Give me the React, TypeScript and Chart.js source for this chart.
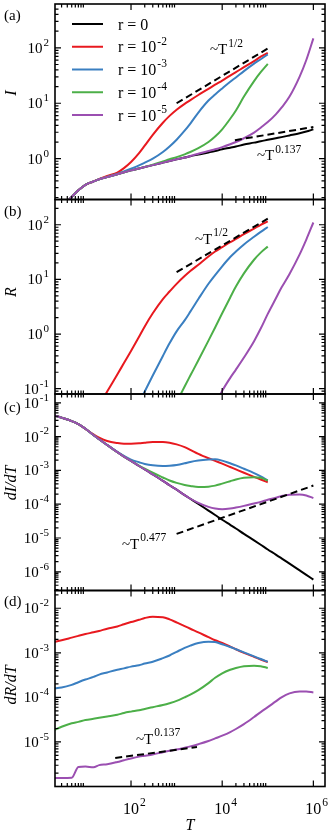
import React, { useEffect, useRef } from 'react';
import { Chart, registerables } from 'chart.js';

Chart.register(...registerables);

const W = 332;
const H = 832;
const PLOT_LEFT = 55;
const PLOT_RIGHT = 325;
const X_MIN = 2.15;
const X_MAX = 1.8e6;
const FONT = "'Liberation Serif', 'DejaVu Serif', 'Times New Roman', serif";

// temperature grid (shared by every series)
const T = [2, 3, 5, 7, 10, 15, 20, 30, 50, 70, 100, 150, 200, 300, 500, 700,
  1e3, 1.5e3, 2e3, 3e3, 5e3, 7e3, 1e4, 1.5e4, 2e4, 3e4, 5e4, 7e4, 1e5,
  1.5e5, 2e5, 3e5, 5e5, 7e5, 1e6];

const SERIES_LABELS = ['0', '-2', '-3', '-4', '-5'];
const COLORS = ['#000000', '#e8191f', '#3a7fc1', '#4caf48', '#9b4fb1'];

// (a) I
const I_R0 = [0.079, 0.126, 0.204, 0.269, 0.339, 0.389, 0.427, 0.468, 0.525, 0.569, 0.617, 0.668, 0.708, 0.767, 0.851, 0.912,
  0.977, 1.05, 1.11, 1.19, 1.30, 1.38, 1.48, 1.58, 1.66, 1.80, 1.95, 2.07, 2.19, 2.34, 2.45, 2.63, 2.88, 3.09, 3.39];
const I_R2 = [0.079, 0.126, 0.204, 0.269, 0.339, 0.389, 0.43, 0.49, 0.562, 0.676, 0.871, 1.26, 1.72, 2.70, 4.45, 5.92,
  7.66, 9.77, 11.4, 14.1, 18.2, 21.6, 25.7, 31.6, 36.3, 44.7, 57.5, 69.2, 81.3];
const I_R3 = [0.079, 0.126, 0.204, 0.269, 0.339, 0.389, 0.427, 0.468, 0.531, 0.589, 0.661, 0.759, 0.851, 1.00, 1.32, 1.66,
  2.20, 3.20, 4.30, 6.80, 11.2, 14.4, 18.5, 24.4, 29.2, 38.0, 51.8, 62.2, 75.9];
const I_R4 = [0.079, 0.126, 0.204, 0.269, 0.339, 0.389, 0.427, 0.468, 0.525, 0.569, 0.617, 0.668, 0.708, 0.776, 0.891, 0.977,
  1.07, 1.20, 1.32, 1.55, 2.00, 2.51, 3.39, 5.25, 7.41, 13.2, 25.1, 36.3, 51.3];
const I_R5 = [0.079, 0.126, 0.204, 0.269, 0.339, 0.389, 0.427, 0.468, 0.525, 0.569, 0.617, 0.668, 0.708, 0.767, 0.851, 0.912,
  0.977, 1.05, 1.12, 1.23, 1.38, 1.48, 1.62, 1.82, 2.00, 2.34, 2.95, 3.63, 4.57, 6.31, 8.32, 13.2, 30.2, 60.3, 148];

// (b) R
const R_R2 = [null, null, null, null, null, null, 0.050, 0.089, 0.182, 0.295, 0.490, 0.891, 1.38, 2.40, 4.37, 6.00,
  8.30, 11.5, 14.2, 18.6, 26.3, 32.4, 38.9, 47.9, 55.0, 67.6, 85.1, 100, 115];
const R_R3 = [null, null, null, null, null, null, null, null, null, null, null, 0.056, 0.0891, 0.174, 0.398, 0.676,
  1.12, 1.78, 2.57, 4.37, 8.32, 12.0, 17.4, 25.7, 32.4, 43.7, 60.3, 74.1, 91.2];
const R_R4 = [null, null, null, null, null, null, null, null, null, null, null, null, null, null, null, null,
  0.0562, 0.110, 0.174, 0.331, 0.759, 1.32, 2.40, 4.68, 7.41, 12.9, 22.9, 30.9, 39.8];
const R_R5 = [null, null, null, null, null, null, null, null, null, null, null, null, null, null, null, null,
  null, null, null, null, null, 0.050, 0.0912, 0.158, 0.224, 0.372, 0.741, 1.26, 2.34, 4.47, 7.08, 12.6, 28.8, 53.7, 110];

// (c) dI/dT
const DI_R0 = [0.0427, 0.0363, 0.0288, 0.0234, 0.0170, 0.0112, 8.32e-3, 5.62e-3, 3.47e-3, 2.57e-3, 1.91e-3, 1.35e-3, 1.07e-3,
  7.59e-4, 4.90e-4, 3.63e-4, 2.69e-4, 1.86e-4, 1.45e-4, 1.02e-4, 6.46e-5, 4.79e-5, 3.47e-5, 2.45e-5, 1.91e-5, 1.32e-5,
  8.51e-6, 6.31e-6, 4.57e-6, 3.24e-6, 2.51e-6, 1.74e-6, 1.10e-6, 8.13e-7, 5.89e-7];
const DI_R2 = [0.0427, 0.0363, 0.0288, 0.0234, 0.0170, 0.0117, 9.33e-3, 7.41e-3, 6.46e-3, 6.17e-3, 6.17e-3, 6.31e-3, 6.61e-3,
  6.92e-3, 6.92e-3, 6.61e-3, 5.89e-3, 4.90e-3, 4.07e-3, 3.09e-3, 2.29e-3, 1.91e-3, 1.58e-3, 1.26e-3, 1.07e-3, 8.51e-4,
  6.46e-4, 5.37e-4, 4.47e-4];
const DI_R3 = [0.0427, 0.0363, 0.0288, 0.0234, 0.0170, 0.0112, 8.32e-3, 5.70e-3, 3.55e-3, 2.69e-3, 2.09e-3, 1.74e-3, 1.55e-3,
  1.41e-3, 1.35e-3, 1.38e-3, 1.45e-3, 1.62e-3, 1.78e-3, 1.95e-3, 2.09e-3, 2.14e-3, 1.95e-3, 1.62e-3, 1.41e-3, 1.12e-3,
  8.32e-4, 6.61e-4, 5.01e-4];
const DI_R4 = [0.0427, 0.0363, 0.0288, 0.0234, 0.0170, 0.0112, 8.32e-3, 5.62e-3, 3.47e-3, 2.57e-3, 1.91e-3, 1.38e-3, 1.12e-3,
  8.51e-4, 6.17e-4, 5.01e-4, 4.27e-4, 3.72e-4, 3.47e-4, 3.24e-4, 3.31e-4, 3.55e-4, 4.07e-4, 4.79e-4, 5.37e-4, 6.03e-4,
  6.31e-4, 6.03e-4, 5.01e-4];
const DI_R5 = [0.0427, 0.0363, 0.0288, 0.0234, 0.0170, 0.0112, 8.32e-3, 5.62e-3, 3.47e-3, 2.57e-3, 1.91e-3, 1.35e-3, 1.07e-3,
  7.59e-4, 4.90e-4, 3.63e-4, 2.69e-4, 1.86e-4, 1.45e-4, 1.10e-4, 8.32e-5, 7.41e-5, 7.08e-5, 7.41e-5, 7.94e-5, 8.91e-5,
  1.05e-4, 1.17e-4, 1.35e-4, 1.55e-4, 1.74e-4, 1.91e-4, 1.95e-4, 1.82e-4, 1.51e-4];

// (d) dR/dT
const DR_R2 = [1.74e-3, 1.91e-3, 2.19e-3, 2.40e-3, 2.63e-3, 2.88e-3, 3.09e-3, 3.47e-3, 3.89e-3, 4.37e-3, 4.90e-3, 5.50e-3,
  6.03e-3, 6.46e-3, 6.31e-3, 5.62e-3, 4.79e-3, 3.98e-3, 3.47e-3, 2.88e-3, 2.24e-3, 1.91e-3, 1.66e-3, 1.38e-3, 1.20e-3,
  1.0e-3, 8.13e-4, 7.08e-4, 6.17e-4];
const DR_R3 = [1.58e-4, 1.66e-4, 1.91e-4, 2.19e-4, 2.51e-4, 2.88e-4, 3.24e-4, 3.63e-4, 4.17e-4, 4.47e-4, 4.90e-4, 5.25e-4,
  5.75e-4, 6.31e-4, 7.59e-4, 8.71e-4, 1.05e-3, 1.29e-3, 1.45e-3, 1.66e-3, 1.78e-3, 1.74e-3, 1.55e-3, 1.35e-3, 1.20e-3,
  1.02e-3, 8.32e-4, 7.24e-4, 6.31e-4];
const DR_R4 = [1.82e-5, 2.19e-5, 2.63e-5, 2.82e-5, 3.09e-5, 3.31e-5, 3.47e-5, 3.72e-5, 4.07e-5, 4.47e-5, 4.79e-5, 5.13e-5,
  5.50e-5, 6.03e-5, 6.76e-5, 7.41e-5, 8.32e-5, 1.0e-4, 1.15e-4, 1.45e-4, 2.09e-4, 2.75e-4, 3.47e-4, 4.17e-4, 4.57e-4,
  5.01e-4, 5.13e-4, 5.01e-4, 4.57e-4];
const DR_R5 = [1.55e-6, 1.55e-6, 1.58e-6, 2.75e-6, 2.82e-6, 2.69e-6, 3.02e-6, 3.16e-6, 3.55e-6, 3.89e-6, 4.27e-6, 4.68e-6,
  4.90e-6, 5.25e-6, 5.89e-6, 6.31e-6, 6.76e-6, 7.41e-6, 7.94e-6, 8.91e-6, 1.05e-5, 1.20e-5, 1.38e-5, 1.66e-5, 1.95e-5,
  2.51e-5, 3.63e-5, 4.68e-5, 6.03e-5, 8.13e-5, 1.0e-4, 1.23e-4, 1.35e-4, 1.35e-4, 1.29e-4];

// power-law guide lines (end points)
const GUIDE_A1_T = [1e3, 1e5];
const GUIDE_A1_V = [10, 97];
const GUIDE_A2_T = [1.9e4, 1e6];
const GUIDE_A2_V = [2.16, 3.73];
const GUIDE_B_T = [1e3, 1e5];
const GUIDE_B_V = [13.6, 129];
const GUIDE_C_T = [1e3, 1e6];
const GUIDE_C_V = [1.32e-5, 3.56e-4];
const GUIDE_D_T = [45, 2.8e3];
const GUIDE_D_V = [4.36e-6, 7.67e-6];

// axis ticks
const X_MAJOR = [1e2, 1e4, 1e6];
const X_MAJOR_EXP = ['2', '4', '6'];
const X_MINOR_DECADES = [1, 1e2, 1e4];
const A_Y_TICKS = [1, 10, 100];
const A_Y_EXP = ['0', '1', '2'];
const B_Y_TICKS = [0.1, 1, 10, 100];
const B_Y_EXP = ['-1', '0', '1', '2'];
const C_Y_TICKS = [1e-6, 1e-5, 1e-4, 1e-3, 1e-2, 1e-1];
const C_Y_EXP = ['-6', '-5', '-4', '-3', '-2', '-1'];
const D_Y_TICKS = [1e-5, 1e-4, 1e-3, 1e-2];
const D_Y_EXP = ['-5', '-4', '-3', '-2'];

const pts = (xs: number[], ys: (number | null)[]) => {
  const out: { x: number; y: number }[] = [];
  ys.forEach((v, i) => {
    if (v !== null && v !== undefined) out.push({ x: xs[i], y: v });
  });
  return out;
};

const curve = (data: (number | null)[], color: string) => ({
  data: pts(T, data),
  borderColor: color,
  borderWidth: 2,
  pointRadius: 0,
  fill: false,
  cubicInterpolationMode: 'monotone' as const,
});

const guide = (xs: number[], ys: number[]) => ({
  data: pts(xs, ys),
  borderColor: '#000',
  borderWidth: 2,
  borderDash: [7, 4],
  pointRadius: 0,
  fill: false,
  tension: 0,
});

type Ann = { x: number; y: number; base: string; exp: string };

// dataset order: first entry is painted on top
const PANELS = [
  {
    tag: '(a)', tagY: 20, title: 'I', titleY: 93,
    top: 4, bottom: 199.5, ymin: 0.184, ymax: 616,
    yTicks: A_Y_TICKS, yExp: A_Y_EXP, xLabels: false, legend: true,
    datasets: [guide(GUIDE_A1_T, GUIDE_A1_V), guide(GUIDE_A2_T, GUIDE_A2_V),
      curve(I_R5, COLORS[4]), curve(I_R4, COLORS[3]), curve(I_R3, COLORS[2]), curve(I_R2, COLORS[1]), curve(I_R0, COLORS[0])],
    ann: [{ x: 210, y: 54, base: '~T', exp: '1/2' }, { x: 257, y: 160, base: '~T', exp: '0.137' }] as Ann[],
  },
  {
    tag: '(b)', tagY: 216, title: 'R', titleY: 292,
    top: 199.5, bottom: 394, ymin: 0.080, ymax: 290,
    yTicks: B_Y_TICKS, yExp: B_Y_EXP, xLabels: false, legend: false,
    datasets: [guide(GUIDE_B_T, GUIDE_B_V),
      curve(R_R5, COLORS[4]), curve(R_R4, COLORS[3]), curve(R_R3, COLORS[2]), curve(R_R2, COLORS[1])],
    ann: [{ x: 195, y: 243.5, base: '~T', exp: '1/2' }] as Ann[],
  },
  {
    tag: '(c)', tagY: 412, title: 'dI/dT', titleY: 483,
    top: 394, bottom: 590.5, ymin: 2.8e-7, ymax: 0.182,
    yTicks: C_Y_TICKS, yExp: C_Y_EXP, xLabels: false, legend: false,
    datasets: [guide(GUIDE_C_T, GUIDE_C_V),
      curve(DI_R5, COLORS[4]), curve(DI_R4, COLORS[3]), curve(DI_R3, COLORS[2]), curve(DI_R2, COLORS[1]), curve(DI_R0, COLORS[0])],
    ann: [{ x: 122, y: 548.5, base: '~T', exp: '0.477' }] as Ann[],
  },
  {
    tag: '(d)', tagY: 606, title: 'dR/dT', titleY: 685,
    top: 590.5, bottom: 786.5, ymin: 1.0e-6, ymax: 0.025,
    yTicks: D_Y_TICKS, yExp: D_Y_EXP, xLabels: true, legend: false,
    datasets: [guide(GUIDE_D_T, GUIDE_D_V),
      curve(DR_R5, COLORS[4]), curve(DR_R4, COLORS[3]), curve(DR_R3, COLORS[2]), curve(DR_R2, COLORS[1])],
    ann: [{ x: 136, y: 743.5, base: '~T', exp: '0.137' }] as Ann[],
  },
];

function drawPow(ctx: CanvasRenderingContext2D, base: string, exp: string, x: number, y: number,
  size: number, esize: number, align: 'left' | 'right' | 'center') {
  ctx.font = `${size}px ${FONT}`;
  const wb = ctx.measureText(base).width;
  ctx.font = `${esize}px ${FONT}`;
  const we = ctx.measureText(exp).width;
  let x0 = x;
  if (align === 'right') x0 = x - wb - 1 - we;
  else if (align === 'center') x0 = x - wb / 2;
  ctx.textAlign = 'left';
  ctx.textBaseline = 'alphabetic';
  ctx.font = `${size}px ${FONT}`;
  ctx.fillText(base, x0, y);
  ctx.font = `${esize}px ${FONT}`;
  ctx.fillText(exp, x0 + wb + 1, y - size * 0.48);
}

function framePlugin(p: typeof PANELS[number]) {
  return {
    id: 'frame',
    afterDraw(chart: any) {
      const { ctx, chartArea: ca, scales } = chart;
      const xs = scales.x;
      const ys = scales.y;
      ctx.save();
      ctx.strokeStyle = '#000';
      ctx.fillStyle = '#000';
      ctx.lineWidth = 1.2;
      ctx.beginPath();
      const xTick = (v: number, len: number) => {
        const px = xs.getPixelForValue(v);
        if (px < ca.left + 1 || px > ca.right - 1) return;
        ctx.moveTo(px, ca.top); ctx.lineTo(px, ca.top + len);
        ctx.moveTo(px, ca.bottom); ctx.lineTo(px, ca.bottom - len);
      };
      X_MAJOR.forEach((v) => xTick(v, 6));
      X_MINOR_DECADES.forEach((d) => { for (let m = 2; m <= 9; m++) xTick(m * d, 3.5); });
      const yTick = (v: number, len: number) => {
        const py = ys.getPixelForValue(v);
        if (py < ca.top + 1 || py > ca.bottom - 1) return;
        ctx.moveTo(ca.left, py); ctx.lineTo(ca.left + len, py);
        ctx.moveTo(ca.right, py); ctx.lineTo(ca.right - len, py);
      };
      const k0 = Math.floor(Math.log10(p.ymin));
      const k1 = Math.ceil(Math.log10(p.ymax));
      for (let k = k0; k <= k1; k++) {
        const d = Math.pow(10, k);
        for (let m = 1; m <= 9; m++) yTick(m * d, m === 1 ? 6 : 3.5);
      }
      ctx.stroke();
      ctx.lineWidth = 1.6;
      ctx.strokeRect(ca.left, ca.top, ca.right - ca.left, ca.bottom - ca.top);

      // y tick labels
      p.yTicks.forEach((v, i) => {
        const py = ys.getPixelForValue(v);
        drawPow(ctx, '10', p.yExp[i], ca.left - 6, py + 5, 15, 11, 'right');
      });
      // x tick labels
      if (p.xLabels) {
        X_MAJOR.forEach((v, i) => {
          const px = xs.getPixelForValue(v);
          drawPow(ctx, '10', X_MAJOR_EXP[i], px, 813.5, 16, 11.5, 'center');
        });
        ctx.font = `italic 16px ${FONT}`;
        ctx.textAlign = 'center';
        ctx.textBaseline = 'alphabetic';
        ctx.fillText('T', (ca.left + ca.right) / 2, 830);
      }
      // panel tag
      ctx.font = `15px ${FONT}`;
      ctx.textAlign = 'left';
      ctx.textBaseline = 'alphabetic';
      ctx.fillText(p.tag, 4, p.tagY);
      // axis title
      ctx.save();
      ctx.translate(12, p.titleY);
      ctx.rotate(-Math.PI / 2);
      ctx.font = `italic 16px ${FONT}`;
      ctx.textAlign = 'center';
      ctx.textBaseline = 'middle';
      ctx.fillText(p.title, 0, 0);
      ctx.restore();
      // annotations
      p.ann.forEach((a) => drawPow(ctx, a.base, a.exp, a.x, a.y, 15, 11.5, 'left'));
      // legend
      if (p.legend) {
        SERIES_LABELS.forEach((lab, i) => {
          const y = 24 + i * 22.75;
          ctx.strokeStyle = COLORS[i];
          ctx.lineWidth = 2;
          ctx.beginPath();
          ctx.moveTo(72, y); ctx.lineTo(103, y);
          ctx.stroke();
          ctx.fillStyle = '#000';
          if (lab === '0') {
            ctx.font = `16px ${FONT}`;
            ctx.textAlign = 'left';
            ctx.textBaseline = 'alphabetic';
            ctx.fillText('r = 0', 118, y + 5.5);
          } else {
            drawPow(ctx, 'r = 10', lab, 118, y + 5.5, 16, 11.5, 'left');
          }
        });
      }
      ctx.restore();
    },
  };
}

export default function App() {
  const r0 = useRef<HTMLCanvasElement>(null);
  const r1 = useRef<HTMLCanvasElement>(null);
  const r2 = useRef<HTMLCanvasElement>(null);
  const r3 = useRef<HTMLCanvasElement>(null);
  const refs = [r0, r1, r2, r3];

  useEffect(() => {
    const charts = PANELS.map((p, i) => new Chart(refs[i].current as HTMLCanvasElement, {
      type: 'line',
      data: { datasets: p.datasets as any },
      options: {
        responsive: false,
        animation: false,
        devicePixelRatio: 1,
        layout: { padding: { left: PLOT_LEFT, right: W - PLOT_RIGHT, top: p.top, bottom: H - p.bottom } },
        scales: {
          x: { type: 'logarithmic', display: false, min: X_MIN, max: X_MAX },
          y: { type: 'logarithmic', display: false, min: p.ymin, max: p.ymax },
        },
        plugins: { legend: { display: false }, tooltip: { enabled: false } },
        elements: { point: { radius: 0 } },
      },
      plugins: [framePlugin(p)],
    }));
    return () => charts.forEach((c) => c.destroy());
  }, []);

  return (
    <div style={{ position: 'absolute', left: 0, top: 0, width: W, height: H, background: '#fff', overflow: 'hidden' }}>
      {refs.map((r, i) => (
        <canvas key={i} ref={r} width={W} height={H} style={{ position: 'absolute', left: 0, top: 0 }} />
      ))}
    </div>
  );
}
